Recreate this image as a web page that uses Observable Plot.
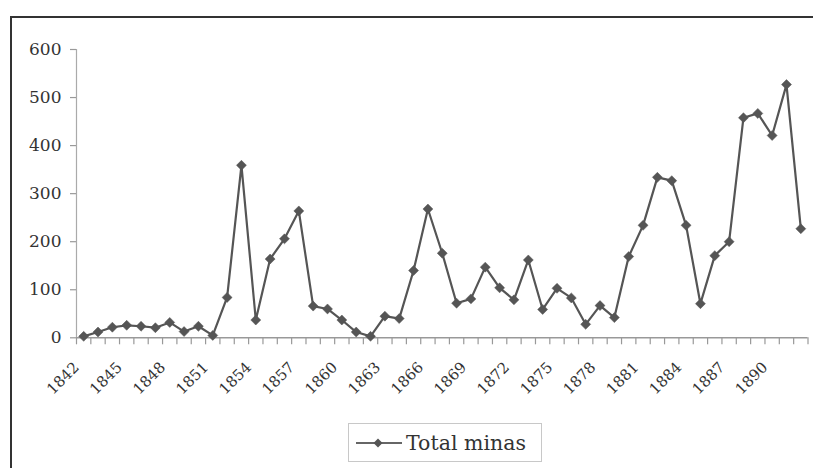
<!DOCTYPE html>
<html>
<head>
<meta charset="utf-8">
<script src="https://cdn.jsdelivr.net/npm/d3@7"></script>
<script src="https://cdn.jsdelivr.net/npm/@observablehq/plot@0.6"></script>
<style>
  html, body { margin: 0; padding: 0; background: #fff; width: 813px; height: 468px; overflow: hidden; }
  #frame { position: absolute; left: 10px; top: 16px; width: 1000px; height: 600px;
           border-left: 2px solid #333; border-top: 2px solid #333; }
  #chart svg { display: block; }
  #chart svg [aria-label="x-axis tick"], #chart svg [aria-label="y-axis tick"] { stroke: #999; stroke-width: 1.2px; }
  #legend { position: absolute; left: 336px; top: 405px; width: 192px; height: 37px;
            border: 1px solid #c8c8c8; display: flex; align-items: center;
            font-family: "DejaVu Serif", serif; font-size: 20.5px; color: #333; }
  #legend svg { margin-left: 7px; margin-right: 4px; }
</style>
</head>
<body>
<div id="frame">
  <div id="chart"></div>
  <div id="legend"><svg width="46" height="14"><line x1="0" y1="7" x2="46" y2="7" stroke="#666" stroke-width="2"/><path d="M22,2.5 L26.5,7 L22,11.5 L17.5,7 Z" fill="#555"/></svg><span>Total minas</span></div>
</div>
<script>
const years = [1842,1843,1844,1845,1846,1847,1848,1849,1850,1851,1852,1853,1854,1855,1856,1857,1858,1859,1860,1861,1862,1863,1864,1865,1866,1867,1868,1869,1870,1871,1872,1873,1874,1875,1876,1877,1878,1879,1880,1881,1882,1883,1884,1885,1886,1887,1888,1889,1890,1891,1892];
const totalMinas = [3,12,22,26,24,21,32,13,24,5,84,359,37,164,206,264,66,60,37,12,3,45,40,140,268,176,72,81,147,104,79,162,59,103,83,28,67,42,169,234,334,327,234,71,171,200,458,467,421,527,227];
const xLabelYears = [1842,1845,1848,1851,1854,1857,1860,1863,1866,1869,1872,1875,1878,1881,1884,1887,1890];
const yTicks = [0,100,200,300,400,500,600];

const data = years.map((y, i) => ({year: y, value: totalMinas[i]}));
const boundaries = [years[0] - 0.5, ...years.map(y => y + 0.5)];
const font = "DejaVu Serif";

const chart = Plot.plot({
  width: 803,
  height: 390,
  marginLeft: 64,
  marginRight: 7.5,
  marginTop: 31,
  marginBottom: 70.7,
  style: {background: "#fff", fontFamily: font, fontSize: "17px", color: "#333"},
  x: {type: "linear", domain: [years[0] - 0.5, years[years.length - 1] + 0.5], ticks: boundaries, tickSize: 7, tickFormat: () => "", label: null},
  y: {domain: [0, 600], ticks: yTicks, tickSize: 6, tickPadding: 9, tickFormat: d => String(d), label: null},
  marks: [
    Plot.ruleX([years[0] - 0.5], {stroke: "#aaa", strokeWidth: 1.2}),
    Plot.ruleY([0], {stroke: "#999", strokeWidth: 1.5}),
    Plot.text(xLabelYears, {x: d => d, frameAnchor: "bottom", rotate: -45, textAnchor: "end", lineAnchor: "middle", dx: -7, dy: 27, fontSize: 15, fontFamily: font, fill: "#333", text: d => String(d)}),
    Plot.line(data, {x: "year", y: "value", stroke: "#555", strokeWidth: 2.2}),
    Plot.dot(data, {x: "year", y: "value", symbol: "diamond2", r: 4.5, fill: "#555", stroke: "#555", strokeWidth: 0.5})
  ]
});
document.getElementById("chart").appendChild(chart);
</script>
</body>
</html>
